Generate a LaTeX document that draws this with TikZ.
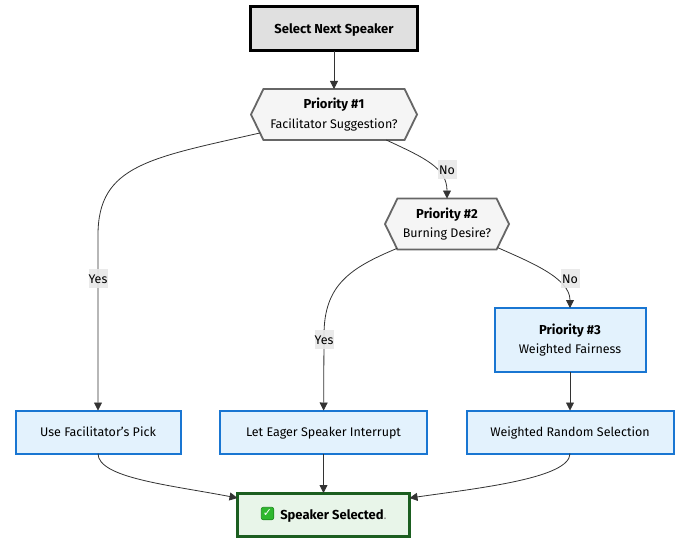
\documentclass[tikz,border=0pt]{standalone}
\usepackage{fontspec}
\setmainfont{Fira Sans}
\newfontfamily\symbolfont{DejaVu Sans}
\usetikzlibrary{arrows.meta,shapes.symbols}
\definecolor{linegray}{HTML}{333333}
\definecolor{decisionline}{HTML}{666666}
\definecolor{decisionfill}{HTML}{F5F5F5}
\definecolor{startfill}{HTML}{E0E0E0}
\definecolor{boxline}{HTML}{1976D2}
\definecolor{boxfill}{HTML}{E3F2FD}
\definecolor{endline}{HTML}{1B5E20}
\definecolor{endfill}{HTML}{E8F5E9}
\definecolor{checkfill}{HTML}{2EB82E}
\definecolor{checkline}{HTML}{1E8C1E}
\definecolor{labelfill}{HTML}{E8E8E8}
\newcommand{\heading}[1]{{\fontsize{13}{19.5}\selectfont\textbf{#1}}}
\tikzset{
  base/.style={inner sep=0pt,outer sep=0pt,align=center,font=\fontsize{12.5}{19.5}\selectfont,text=black},
  oneline/.style={text height=10.5pt,text depth=1.5pt},
  twolines/.style={execute at begin node={\rule{0pt}{15pt}}},
  startbox/.style={base,oneline,draw=black,fill=startfill,line width=3pt,minimum width=167pt,minimum height=44pt},
  decision/.style={base,twolines,shape=signal,signal to=east and west,signal pointer angle=128,draw=decisionline,fill=decisionfill,line width=1.8pt,minimum height=51pt},
  stepbox/.style={base,draw=boxline,fill=boxfill,line width=2pt},
  endbox/.style={base,oneline,draw=endline,fill=endfill,line width=3pt,minimum width=172pt,minimum height=43pt},
  checkbox/.style={base,draw=checkline,line width=0.6pt,fill=checkfill,rounded corners=2pt,minimum size=12.5pt,font=\symbolfont\fontsize{11}{11}\selectfont,text=white},
  edgelabel/.style={base,oneline,fill=labelfill,fill opacity=0.9,text opacity=1,minimum height=19pt,minimum width=19pt}
}
\begin{document}
\begin{tikzpicture}[x=1pt,y=-1pt]
      \useasboundingbox (0,0) rectangle (684,542);
      \begin{scope}
        \node[startbox] (start) at (334,28.5) {\heading{Select Next Speaker}};
        \node[decision,minimum width=166pt] (p1) at (334,114.5) {\heading{Priority \#1}\\Facilitator Suggestion?};
        \node[decision,minimum width=124pt] (p2) at (447,224) {\heading{Priority \#2}\\Burning Desire?};
        \node[stepbox,twolines,minimum width=151pt,minimum height=64pt] (p3) at (570,340) {\heading{Priority \#3}\\Weighted Fairness};
        \node[stepbox,oneline,minimum width=165pt,minimum height=43pt] (use) at (98,432) {Use Facilitator's Pick};
        \node[stepbox,oneline,minimum width=207pt,minimum height=43pt] (let) at (323.5,432) {Let Eager Speaker Interrupt};
        \node[stepbox,oneline,minimum width=207pt,minimum height=43pt] (random) at (570,432) {Weighted Random Selection};
        \node[endbox] (end) at (323.5,514.5) {\hspace{20pt}\heading{Speaker Selected}\textcolor{gray}{.}};
        \node[checkbox] (check) at (267.5,513.5) {✓};
      \end{scope}
      \begin{scope}[every path/.style={draw=linegray,line width=0.8pt,-{Triangle[length=8pt,width=8pt]}}]
        \path (start) -- (p1);
        \path (p1.194) .. controls (150,158) and (98,165) .. (98,235) -- (use);
        \path (p1.-26) .. controls (425,158) and (447,168) .. (p2);
        \path (p2.206) .. controls (350,268) and (324,285) .. (324,335) -- (let);
        \path (p2.-25) .. controls (530,262) and (570,278) .. (p3);
        \path (p3) -- (random);
        \path (use) .. controls (98,478) and (170,485) .. (end.west |- 0,498);
        \path (let) -- (end);
        \path (random) .. controls (570,478) and (480,488) .. (end.east |- 0,498);
      \end{scope}
      \node[edgelabel] (yes1) at (98,278.5) {Yes};
      \node[edgelabel] (no1) at (447,169.5) {No};
      \node[edgelabel] (yes2) at (324,339.5) {Yes};
      \node[edgelabel] (no2) at (570,278.5) {No};
    \end{tikzpicture}
\end{document}
